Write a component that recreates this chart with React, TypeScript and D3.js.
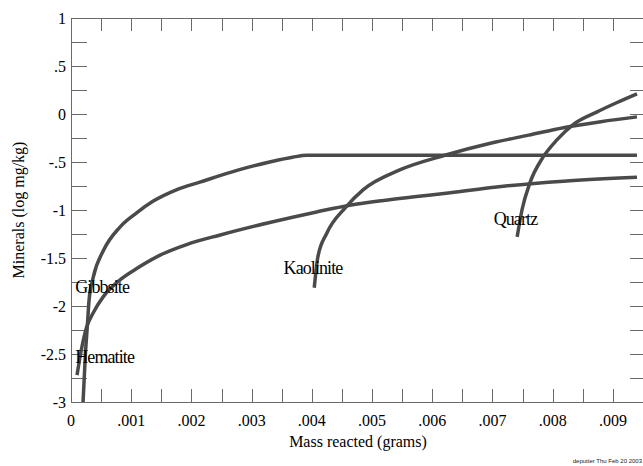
import React from "react";
import { scaleLinear, line, curveMonotoneX, range } from "d3";

// mass reacted (grams) vs log mg/kg
const steepMineral: [number, number][] = [
  [0.0002, -3.0], [0.00024, -2.49], [0.00027, -2.22], [0.0003, -1.94],
  [0.00037, -1.7], [0.00054, -1.42], [0.00081, -1.18], [0.00109, -1.03],
  [0.00136, -0.91], [0.00175, -0.79], [0.00214, -0.71], [0.0028, -0.58],
  [0.0033, -0.5], [0.00368, -0.45], [0.00392, -0.43], [0.0094, -0.43],
];
const gradualMineral: [number, number][] = [
  [0.0001, -2.72], [0.00018, -2.43], [0.00026, -2.22], [0.00037, -2.07],
  [0.00054, -1.9], [0.00081, -1.73], [0.00109, -1.61], [0.00148, -1.47],
  [0.00192, -1.36], [0.00248, -1.26], [0.0033, -1.13], [0.00408, -1.02],
  [0.00463, -0.95], [0.00519, -0.9], [0.00574, -0.86], [0.0063, -0.82],
  [0.00707, -0.76], [0.00818, -0.7], [0.0094, -0.66],
];
const kaolinite: [number, number][] = [
  [0.00404, -1.81], [0.0041, -1.49], [0.00425, -1.24], [0.00455, -0.98],
  [0.00485, -0.79], [0.00547, -0.58], [0.00621, -0.43], [0.007, -0.3],
  [0.0076, -0.22], [0.0082, -0.14], [0.0088, -0.08], [0.0094, -0.03],
];
const quartz: [number, number][] = [
  [0.00741, -1.28], [0.00749, -1.0], [0.00762, -0.72], [0.00784, -0.45],
  [0.00807, -0.27], [0.00834, -0.11], [0.00873, 0.02], [0.00907, 0.12],
  [0.0094, 0.21],
];
const series = [steepMineral, gradualMineral, kaolinite, quartz];

const labels = [
  { text: "Gibbsite", x: 0.00007, y: -1.8 },
  { text: "Hematite", x: 0.00007, y: -2.53 },
  { text: "Kaolinite", x: 0.00353, y: -1.6 },
  { text: "Quartz", x: 0.00702, y: -1.09 },
];

const xLabelTicks = range(0, 10).map((i) => i / 1000);
const yLabelTicks = [1, 0.5, 0, -0.5, -1, -1.5, -2, -2.5, -3];

const fmt = (v: number) => {
  if (v === 0) return "0";
  const s = String(v);
  return s.replace(/^(-?)0\./, "$1.");
};

const W = 643;
const H = 466;
const left = 71;
const right = 643;
const top = 18;
const bottom = 402;

const App = () => {
  const x = scaleLinear().domain([0, 0.0095]).range([left, right]);
  const y = scaleLinear().domain([-3, 1]).range([bottom, top]);
  const path = line<[number, number]>()
    .x((d) => x(d[0]))
    .y((d) => y(d[1]))
    .curve(curveMonotoneX);

  const xMinor = range(1, 20).map((i) => i * 0.0005);
  const yMinor = range(1, 16).map((i) => -3 + i * 0.25);
  const axisColor = "#6a6a6a";

  return (
    <svg
      width={W}
      height={H}
      style={{ position: "absolute", left: 0, top: 0, background: "#fff" }}
      fontFamily="'Liberation Serif', 'Times New Roman', serif"
    >
      <g stroke={axisColor} strokeWidth={1} fill="none">
        <line x1={left} x2={right} y1={top + 0.5} y2={top + 0.5} />
        <line x1={left} x2={right} y1={bottom + 0.5} y2={bottom + 0.5} />
        <line x1={left + 0.5} x2={left + 0.5} y1={top} y2={bottom} />
        {xMinor.map((v, i) => (
          <g key={i}>
            <line x1={Math.round(x(v)) + 0.5} x2={Math.round(x(v)) + 0.5} y1={top} y2={top + 13} />
            <line x1={Math.round(x(v)) + 0.5} x2={Math.round(x(v)) + 0.5} y1={bottom} y2={bottom - 13} />
          </g>
        ))}
        {yMinor.map((v, i) => (
          <g key={i}>
            <line x1={left} x2={left + 16} y1={Math.round(y(v)) + 0.5} y2={Math.round(y(v)) + 0.5} />
            <line x1={right - 13} x2={right} y1={Math.round(y(v)) + 0.5} y2={Math.round(y(v)) + 0.5} />
          </g>
        ))}
      </g>

      <g fill="#000" fontSize={16}>
        {yLabelTicks.map((v) => (
          <text key={v} x={left - 5} y={y(v)} textAnchor="end" dominantBaseline="central">
            {fmt(v)}
          </text>
        ))}
        {xLabelTicks.map((v) => (
          <text key={v} x={x(v)} y={bottom + 18} textAnchor="middle" dominantBaseline="central">
            {fmt(v)}
          </text>
        ))}
        <text x={358} y={441} textAnchor="middle" dominantBaseline="central">
          Mass reacted (grams)
        </text>
        <text
          transform={`translate(18,${(top + bottom) / 2}) rotate(-90)`}
          textAnchor="middle"
          dominantBaseline="central"
        >
          Minerals (log mg/kg)
        </text>
      </g>

      <g fill="none" stroke="#4a4a4a" strokeWidth={3.5} strokeLinejoin="round">
        {series.map((s, i) => (
          <path key={i} d={path(s) ?? ""} />
        ))}
      </g>

      <g fill="#000" fontSize={18} letterSpacing={-0.9}>
        {labels.map((l) => (
          <text key={l.text} x={x(l.x)} y={y(l.y)} dominantBaseline="central">
            {l.text}
          </text>
        ))}
      </g>

      <text
        x={W - 1}
        y={463}
        textAnchor="end"
        fontSize={6}
        fontFamily="'Liberation Sans', Arial, sans-serif"
        fill="#222"
      >
        deputter Thu Feb 20 2003
      </text>
    </svg>
  );
};

export default App;
